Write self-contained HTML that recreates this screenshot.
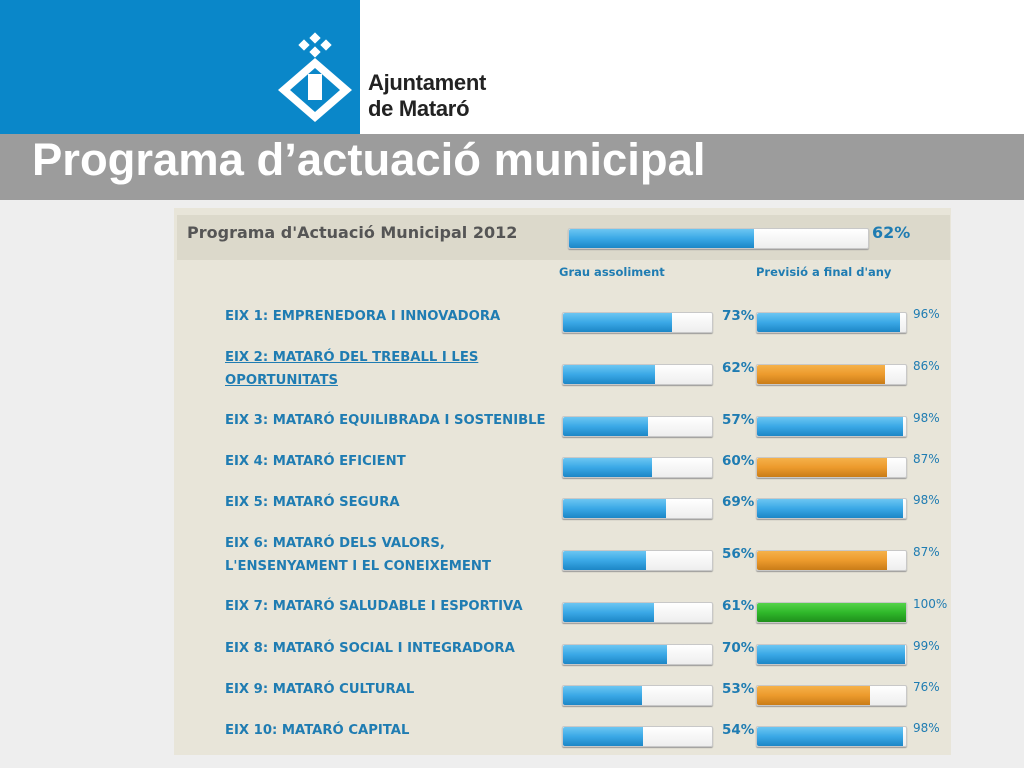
<!DOCTYPE html>
<html><head><meta charset="utf-8"><style>
body{margin:0;width:1024px;height:768px;background:#eeeeee;position:relative;overflow:hidden;font-family:"Liberation Sans",sans-serif}
.abs{position:absolute}
.bar{position:absolute;height:19px;width:149px;background:linear-gradient(#ffffff,#eeeeee);border:1px solid #c8c8c8;border-radius:2px;box-shadow:0 1px 1px #999}
.fill{position:absolute;left:0;top:0;bottom:0;border-radius:2px 0 0 2px}
.blue{background:linear-gradient(#6cc6f2 0%,#3aa8e6 50%,#1c86c6 100%)}
.orange{background:linear-gradient(#f5b14a 0%,#ec9a2c 50%,#c97c18 100%)}
.green{background:linear-gradient(#55d34a 0%,#2fb82a 50%,#1f8f1c 100%)}
.lbl{position:absolute;color:#1f7cb2;font-weight:bold;font-size:13.2px;font-family:"DejaVu Sans",sans-serif;white-space:nowrap}
.pct{position:absolute;color:#1f7cb2;font-weight:bold;font-size:13.5px;font-family:"DejaVu Sans",sans-serif}
.pct2{position:absolute;color:#1f7cb2;font-size:12px;font-family:"DejaVu Sans",sans-serif}
</style></head><body>
<div class="abs" style="left:360px;top:0;width:664px;height:134px;background:#fff"></div>
<div class="abs" style="left:0;top:0;width:360px;height:134px;background:#0a87c9"></div>
<svg class="abs" style="left:278px;top:32px" width="80" height="92" viewBox="0 0 80 92">
<g fill="#fff"><rect x="33" y="2" width="8" height="8" transform="rotate(45 37 6)"/><rect x="22" y="9" width="8" height="8" transform="rotate(45 26 13)"/><rect x="44" y="9" width="8" height="8" transform="rotate(45 48 13)"/><rect x="33" y="16" width="8" height="8" transform="rotate(45 37 20)"/>
<path d="M37 26 L74 58 L37 90 L0 58 Z M37 36 L12 58 L37 80 L62 58 Z" fill-rule="evenodd"/><rect x="30" y="42" width="14" height="26"/></g></svg>
<div class="abs" style="left:368px;top:70px;font-size:22px;line-height:26px;color:#222;font-weight:bold;font-family:'Liberation Sans',sans-serif;letter-spacing:-0.3px">Ajuntament<br>de Mataró</div>
<div class="abs" style="left:0;top:134px;width:1024px;height:66px;background:#9c9c9c"></div>
<div class="abs" style="left:32px;top:134px;font-size:45.4px;font-weight:bold;color:#fff;line-height:52px">Programa d’actuació municipal</div>
<div class="abs" style="left:174px;top:208px;width:777px;height:547px;background:#e8e5d9"></div>
<div class="abs" style="left:177px;top:215px;width:773px;height:45px;background:#dcd9cb"></div>
<div class="abs" style="left:187px;top:223px;font-size:16px;font-weight:bold;color:#555;font-family:'DejaVu Sans',sans-serif">Programa d'Actuació Municipal 2012</div>
<div class="bar" style="left:568px;top:228px;width:299px"><div class="fill blue" style="width:62%"></div></div>
<div class="pct abs" style="left:872px;top:223px;font-size:16px">62%</div>
<div class="pct2" style="left:559px;top:265px;font-weight:bold;font-size:11.5px">Grau assoliment</div>
<div class="pct2" style="left:756px;top:265px;font-weight:bold;font-size:11.5px">Previsió a final d'any</div>
<div id="rows"></div>
<script>
const labels=["EIX 1: EMPRENEDORA I INNOVADORA","EIX 2: MATARÓ DEL TREBALL I LES<br>OPORTUNITATS","EIX 3: MATARÓ EQUILIBRADA I SOSTENIBLE","EIX 4: MATARÓ EFICIENT","EIX 5: MATARÓ SEGURA","EIX 6: MATARÓ DELS VALORS,<br>L'ENSENYAMENT I EL CONEIXEMENT","EIX 7: MATARÓ SALUDABLE I ESPORTIVA","EIX 8: MATARÓ SOCIAL I INTEGRADORA","EIX 9: MATARÓ CULTURAL","EIX 10: MATARÓ CAPITAL"];
const grau=[73,62,57,60,69,56,61,70,53,54];
const previsio=[96,86,98,87,98,87,100,99,76,98];
const colors=["blue","orange","blue","orange","blue","orange","green","blue","orange","blue"];
const barTops=[312,364,416,457,498,550,602,644,685,726];
const root=document.getElementById('rows');
labels.forEach((l,i)=>{
  const t=barTops[i];const two=l.includes('<br>');
  const lab=document.createElement('div');lab.className='lbl';
  
  
  lab.style.left='225px';lab.style.top=(two?t-18:t-7)+'px';lab.style.lineHeight='23px';
  if(i===1)lab.style.textDecoration='underline';
  lab.innerHTML=l;root.appendChild(lab);
  const b1=document.createElement('div');b1.className='bar';
  
  
  b1.style.left='562px';b1.style.top=t+'px';
  b1.innerHTML='<div class="fill blue" style="width:'+grau[i]+'%"></div>';root.appendChild(b1);
  const p1=document.createElement('div');p1.className='pct';
  
  
  p1.style.left='722px';p1.style.top=(t-4)+'px';p1.textContent=grau[i]+'%';root.appendChild(p1);
  const b2=document.createElement('div');b2.className='bar';
  
  
  b2.style.left='756px';b2.style.top=t+'px';
  b2.innerHTML='<div class="fill '+colors[i]+'" style="width:'+previsio[i]+'%"></div>';root.appendChild(b2);
  const p2=document.createElement('div');p2.className='pct2';
  
  
  p2.style.left='913px';p2.style.top=(t-5)+'px';p2.textContent=previsio[i]+'%';root.appendChild(p2);
});
</script>
</body></html>
